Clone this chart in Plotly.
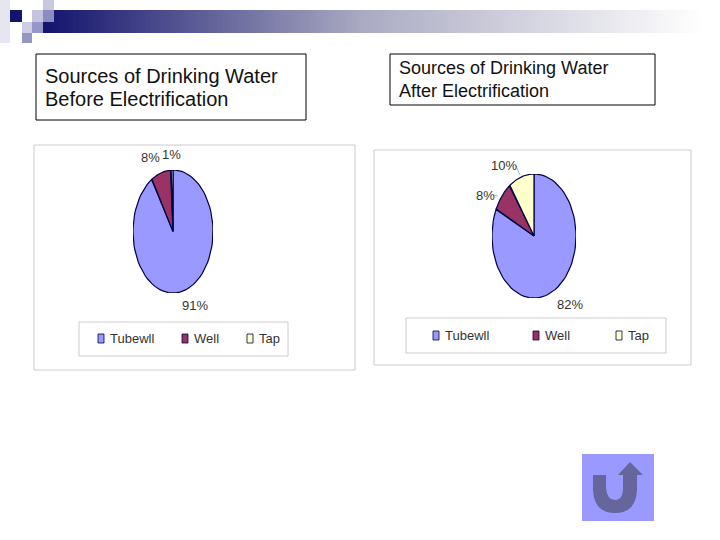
import numpy as np
import plotly.graph_objects as go

W, H = 720, 540

categories = ["Tubewll", "Well", "Tap"]
before_values = [91, 8, 1]
after_values = [82, 8, 10]
before_labels = ["91%", "8%", "1%"]
after_labels = ["82%", "8%", "10%"]
slice_colors = ["#9999FF", "#993366", "#FFFFCC"]

title_before = ["Sources of Drinking Water", "Before Electrification"]
title_after = ["Sources of Drinking Water", "After Electrification"]

SANS = "Liberation Sans"
OUTLINE = "#000040"


def px(x):
    return x / W


def py(y):
    return 1 - y / H


def rect(x0, y0, x1, y1, fill, line=None, width=1):
    return dict(type="rect", xref="paper", yref="paper", layer="below",
                x0=px(x0), x1=px(x1), y0=py(y0), y1=py(y1),
                fillcolor=fill, line=dict(color=line, width=width if line else 0))


def line(x0, y0, x1, y1, color="#999999"):
    return dict(type="line", xref="paper", yref="paper",
                x0=px(x0), x1=px(x1), y0=py(y0), y1=py(y1),
                line=dict(color=color, width=0.7))


def text(x, y, s, size=13, anchor="center", color="#333333"):
    return dict(x=px(x), y=py(y), xref="paper", yref="paper", text=s, showarrow=False,
                xanchor=anchor, yanchor="middle",
                font=dict(family=SANS, size=size, color=color))


# the source pies are stretched, so slices are drawn on axes with unequal scales
def add_pie(fig, values, axis_no):
    edges = np.cumsum([0] + values) / sum(values) * 2 * np.pi
    for i, name in enumerate(categories):
        t = np.linspace(edges[i], edges[i + 1], 80)
        fig.add_trace(go.Scatter(
            x=np.r_[0, np.sin(t), 0], y=np.r_[0, np.cos(t), 0],
            mode="lines", fill="toself", fillcolor=slice_colors[i],
            line=dict(color=OUTLINE, width=1.2), cliponaxis=False,
            xaxis=f"x{axis_no}", yaxis=f"y{axis_no}",
            showlegend=False, hoverinfo="text", text=f"{name}: {values[i]}%"))


fig = go.Figure()
add_pie(fig, before_values, 1)
add_pie(fig, after_values, 2)

hidden = dict(visible=False, range=[-1, 1], fixedrange=True)
shapes = []

# header band, whole pixel steps so the edges stay clean
band_x = [43, 360, 700]
band_r = [20, 170, 255]
band_b = [110, 195, 255]
for x0 in range(43, W, 3):
    r = int(np.interp(x0, band_x, band_r))
    b = int(np.interp(x0, band_x, band_b))
    shapes.append(rect(x0, 10, x0 + 3, 33, f"rgb({r},{r},{b})"))

# corner squares
shapes += [
    rect(0, 0, 10, 43, "#E6E6F2"),
    rect(43, 0, 54, 10, "#C8C8E1"),
    rect(10, 10, 22, 22, "#14146E"),
    rect(32, 10, 43, 22, "#C4C4E1"),
    rect(43, 10, 54, 22, "#8C8CBE"),
    rect(22, 22, 32, 33, "#CDCDE6"),
    rect(32, 22, 43, 33, "#9696C8"),
    rect(22, 33, 32, 43, "#9696C3"),
]

# title boxes and chart frames
shapes += [
    rect(36, 54, 306, 120, "white", "#000000"),
    rect(390, 54, 655, 105, "white", "#000000"),
    rect(34, 145, 355, 370, "white", "#CCCCCC"),
    rect(374, 150, 691, 365, "white", "#CCCCCC"),
    rect(79, 322, 288, 356, "white", "#CCCCCC"),
    rect(406, 318, 666, 353, "white", "#CCCCCC"),
]

# legend swatches
for x, c in zip([98, 182, 247], slice_colors):
    shapes.append(rect(x, 334, x + 6, 343, c, OUTLINE, 0.8))
for x, c in zip([433, 533, 616], slice_colors):
    shapes.append(rect(x, 331, x + 6, 340, c, OUTLINE, 0.8))

# leader lines on the second pie
shapes += [line(516, 166, 520, 175), line(493, 195, 498, 196)]

# back button
shapes.append(rect(582, 454, 654, 521, "#9999FF"))
path = "M%f,%f L%f,%f L%f,%f " % (px(593), py(475), px(606), py(475), px(606), py(488))
path += "Q%f,%f %f,%f " % (px(607), py(500), px(615), py(500))
path += "Q%f,%f %f,%f " % (px(623), py(500), px(623), py(488))
path += "L%f,%f L%f,%f L%f,%f L%f,%f L%f,%f L%f,%f " % (
    px(623), py(475), px(618), py(475), px(630), py(462),
    px(643), py(475), px(637), py(475), px(637), py(490))
path += "Q%f,%f %f,%f " % (px(636), py(513), px(615), py(513))
path += "Q%f,%f %f,%f Z" % (px(594), py(513), px(593), py(490))
shapes.append(dict(type="path", xref="paper", yref="paper", path=path,
                   fillcolor="#66669C", line=dict(width=0)))

annotations = [
    text(43, 76, title_before[0], size=20, anchor="left", color="#111111"),
    text(43, 99, title_before[1], size=20, anchor="left", color="#111111"),
    text(397, 68, title_after[0], size=18, anchor="left", color="#111111"),
    text(397, 91, title_after[1], size=18, anchor="left", color="#111111"),
    text(195, 305, before_labels[0]),
    text(150, 157, before_labels[1]),
    text(171, 155, before_labels[2]),
    text(570, 304, after_labels[0]),
    text(485, 195, after_labels[1]),
    text(504, 165, after_labels[2]),
]
for x, name in zip([108, 192, 257], categories):
    annotations.append(text(x, 338, name, anchor="left"))
for x, name in zip([443, 543, 626], categories):
    annotations.append(text(x, 335, name, anchor="left"))

fig.update_layout(
    width=W, height=H, margin=dict(l=0, r=0, t=0, b=0, autoexpand=False),
    paper_bgcolor="white", plot_bgcolor="rgba(0,0,0,0)", showlegend=False,
    xaxis=dict(domain=[px(133), px(213)], **hidden),
    yaxis=dict(domain=[py(293), py(170)], **hidden),
    xaxis2=dict(domain=[px(492), px(576)], **hidden),
    yaxis2=dict(domain=[py(298), py(174)], **hidden),
    shapes=shapes, annotations=annotations,
)

fig.write_html("out.html", config={"displayModeBar": False},
               post_script="document.body.style.margin = '0';")
